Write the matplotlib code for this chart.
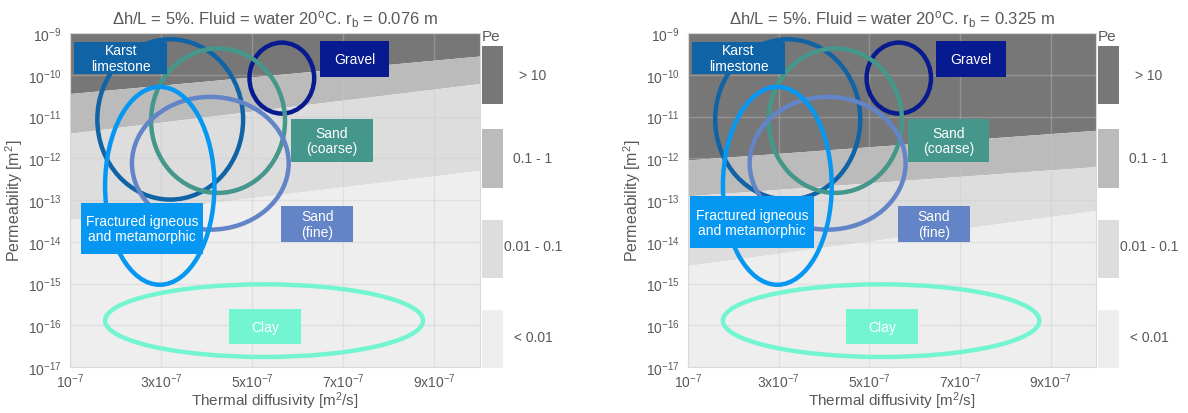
import numpy as np
import matplotlib.pyplot as plt
from matplotlib.patches import Ellipse, Rectangle

plt.rcParams['font.family'] = ['Liberation Sans', 'DejaVu Sans']
plt.rcParams['mathtext.fontset'] = 'custom'
plt.rcParams['mathtext.rm'] = 'Liberation Sans'
plt.rcParams['mathtext.it'] = 'Liberation Sans:italic'
plt.rcParams['mathtext.bf'] = 'Liberation Sans:bold'

# rock types: thermal diffusivity range [m2/s], log10 permeability range [m2]
rocks = ['Karst\nlimestone', 'Gravel', 'Sand\n(coarse)', 'Sand\n(fine)',
         'Fractured igneous\nand metamorphic', 'Clay']
alpha_lo = [1.60e-7, 4.94e-7, 2.78e-7, 2.36e-7, 1.77e-7, 1.77e-7]
alpha_hi = [4.80e-7, 6.36e-7, 5.72e-7, 5.80e-7, 4.17e-7, 8.75e-7]
logk_lo = [-12.99, -10.93, -12.83, -13.71, -15.03, -16.76]
logk_hi = [-9.15, -9.23, -9.37, -10.53, -10.29, -15.02]
rock_colors = ['#1064a6', '#071a8f', '#44978a', '#6384c6', '#0597f2', '#74f5d2']

# Pe class boundaries (log10 k) at alpha = 1e-7 and 1e-6
band_alpha = [1e-7, 1e-6]
pe_bounds_076 = [[-10.45, -9.55], [-11.40, -10.21], [-13.47, -12.29]]
pe_bounds_325 = [[-12.04, -11.33], [-12.90, -12.20], [-14.57, -13.25]]
pe_labels = ['> 10', '0.1 - 1', '0.01 - 0.1', '< 0.01']
pe_colors = ['#777777', '#bbbbbb', '#dddddd', '#eeeeee']

titles = [r'$\Delta$h/L = 5%. Fluid = water 20$^{\rm o}$C. r$_{\rm b}$ = 0.076 m',
          r'$\Delta$h/L = 5%. Fluid = water 20$^{\rm o}$C. r$_{\rm b}$ = 0.325 m']

xticks = [1e-7, 3e-7, 5e-7, 7e-7, 9e-7]
xticklabels = ['10$^{-7}$', '3x10$^{-7}$', '5x10$^{-7}$', '7x10$^{-7}$', '9x10$^{-7}$']
yticks = list(range(-17, -8))

txt = '#595959'
W, H = 1188, 414


def px_rect(x0, y0, x1, y1):
    return [x0 / W, 1 - y1 / H, (x1 - x0) / W, (y1 - y0) / H]


# label boxes (alpha0, alpha1, logk0, logk1)
boxes_076 = [(1.09e-7, 3.14e-7, -9.98, -9.21), (6.48e-7, 8.01e-7, -10.05, -9.20),
             (5.85e-7, 7.65e-7, -12.10, -11.05), (5.64e-7, 7.21e-7, -14.01, -13.15),
             (1.24e-7, 3.93e-7, -14.30, -13.07), (4.49e-7, 6.08e-7, -16.46, -15.60)]
boxes_325 = list(boxes_076)
boxes_325[4] = (1.05e-7, 3.77e-7, -14.16, -12.91)


def draw_panel(ax, bounds, boxes, title):
    lo, hi = -9, -17
    edges = [[lo, lo]] + bounds + [[hi, hi]]
    for i in range(4):
        ax.fill_between(band_alpha, edges[i + 1], edges[i], color=pe_colors[i],
                        lw=0, zorder=1)
    for i in range(len(rocks)):
        ax.add_patch(Ellipse(((alpha_lo[i] + alpha_hi[i]) / 2, (logk_lo[i] + logk_hi[i]) / 2),
                             alpha_hi[i] - alpha_lo[i], logk_hi[i] - logk_lo[i],
                             fill=False, ec=rock_colors[i], lw=3.2, zorder=3))
    for i in range(len(rocks)):
        x0, x1, y0, y1 = boxes[i]
        ax.add_patch(Rectangle((x0, y0), x1 - x0, y1 - y0, fc=rock_colors[i], ec='none', zorder=4))
        ax.text((x0 + x1) / 2, (y0 + y1) / 2, rocks[i], color='white', fontsize=10,
                ha='center', va='center', linespacing=1.15, zorder=5)
    ax.set_xlim(1e-7, 1e-6)
    ax.set_ylim(-17, -9)
    ax.set_xticks(xticks)
    ax.set_xticklabels(xticklabels)
    ax.set_yticks(yticks)
    ax.set_yticklabels(['10$^{%d}$' % v for v in yticks])
    ax.tick_params(length=0, labelsize=10, colors=txt)
    ax.tick_params(axis='y', pad=6)
    ax.tick_params(axis='x', pad=3)
    ax.grid(True, color='#c8c8c8', lw=1, alpha=0.35)
    for s in ax.spines.values():
        s.set_color('#d9d9d9')
    ax.set_xlabel('Thermal diffusivity [m$^2$/s]', fontsize=11, color=txt, labelpad=0)
    ax.set_ylabel('Permeability [m$^2$]', fontsize=11.5, color=txt, labelpad=2)
    ax.set_title(title, fontsize=12, color=txt, pad=7)


def draw_legend(xr, dx):
    lg = fig.add_axes(px_rect(xr, 25, xr + 110, 374))
    lg.set_xlim(xr, xr + 110)
    lg.set_ylim(374, 25)
    lg.axis('off')
    tops = [47, 130, 221, 311]
    bots = [105, 189, 279, 369]
    ymid = [76, 159, 247, 338]
    for i in range(4):
        lg.add_patch(Rectangle((xr + dx, tops[i]), 21, bots[i] - tops[i], fc=pe_colors[i], ec='none'))
        lg.text(xr + dx + 51, ymid[i], pe_labels[i], fontsize=10, color=txt, ha='center', va='center')
    lg.text(xr + dx, 37, 'Pe', fontsize=11, color=txt, ha='left', va='center')


fig = plt.figure(figsize=(W / 100, H / 100), dpi=100)
ax1 = fig.add_axes(px_rect(70, 34, 480, 368))
ax2 = fig.add_axes(px_rect(688, 34, 1096, 368))
draw_panel(ax1, pe_bounds_076, boxes_076, titles[0])
draw_panel(ax2, pe_bounds_325, boxes_325, titles[1])
draw_legend(480, 2)
draw_legend(1096, 2)

plt.savefig('out.png', dpi=100)
